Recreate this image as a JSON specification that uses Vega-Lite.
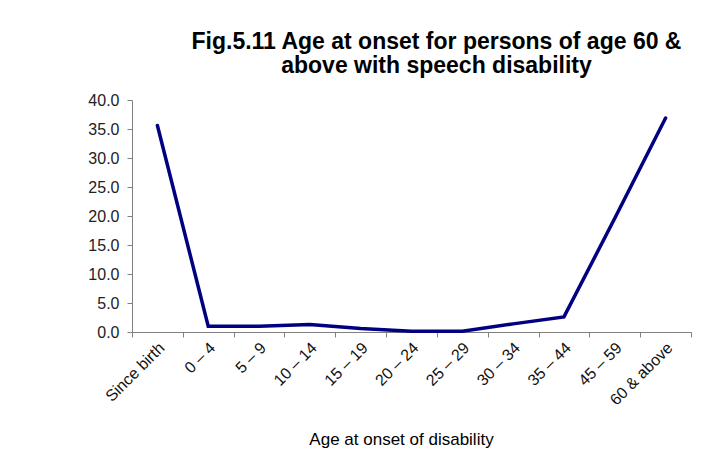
{
  "$schema": "https://vega.github.io/schema/vega-lite/v6.json",
  "width": 559,
  "height": 232,
  "autosize": {"type": "none"},
  "padding": {"left": 132, "top": 100, "right": 18, "bottom": 132},
  "background": "white",
  "title": {
    "text": ["Fig.5.11 Age at onset for persons of age 60 &", "above with speech disability"],
    "font": "Liberation Sans",
    "fontSize": 23,
    "fontWeight": "bold",
    "color": "#000000",
    "anchor": "middle",
    "dx": 25,
    "lineHeight": 24,
    "offset": 14
  },
  "config": {
    "view": {"stroke": null},
    "axis": {"labelFont": "Liberation Sans", "titleFont": "Liberation Sans"}
  },
  "data": {
    "values": [
      {"age": "Since birth", "pct": 35.6},
      {"age": "0 – 4", "pct": 1.0},
      {"age": "5 – 9", "pct": 1.0},
      {"age": "10 – 14", "pct": 1.3},
      {"age": "15 – 19", "pct": 0.6},
      {"age": "20 – 24", "pct": 0.15},
      {"age": "25 – 29", "pct": 0.15},
      {"age": "30 – 34", "pct": 1.4},
      {"age": "35 – 44", "pct": 2.6},
      {"age": "45 – 59", "pct": 19.6},
      {"age": "60 & above", "pct": 36.9}
    ]
  },
  "mark": {"type": "line", "color": "#000080", "strokeWidth": 3.5, "strokeCap": "round", "strokeJoin": "miter"},
  "encoding": {
    "x": {
      "field": "age",
      "type": "nominal",
      "sort": null,
      "scale": {"type": "band", "paddingInner": 0, "paddingOuter": 0},
      "axis": {
        "title": "Age at onset of disability",
        "titleFontSize": 17,
        "titleFontWeight": "normal",
        "titleColor": "#000000",
        "titleX": 269,
        "titleY": 112,
        "titleBaseline": "alphabetic",
        "labelAngle": -45,
        "labelAlign": "right",
        "labelBaseline": "middle",
        "labelFontSize": 16,
        "labelColor": "#111111",
        "labelPadding": 8,
        "labelOffset": 4,
        "tickBand": "extent",
        "tickSize": 5,
        "tickColor": "#808080",
        "domainColor": "#808080",
        "grid": false
      }
    },
    "y": {
      "field": "pct",
      "type": "quantitative",
      "scale": {"domain": [0, 40], "nice": false},
      "axis": {
        "title": null,
        "values": [0, 5, 10, 15, 20, 25, 30, 35, 40],
        "format": ".1f",
        "labelFontSize": 16,
        "labelColor": "#222222",
        "labelPadding": 8,
        "tickSize": 5,
        "tickColor": "#808080",
        "domainColor": "#808080",
        "grid": false
      }
    }
  }
}
